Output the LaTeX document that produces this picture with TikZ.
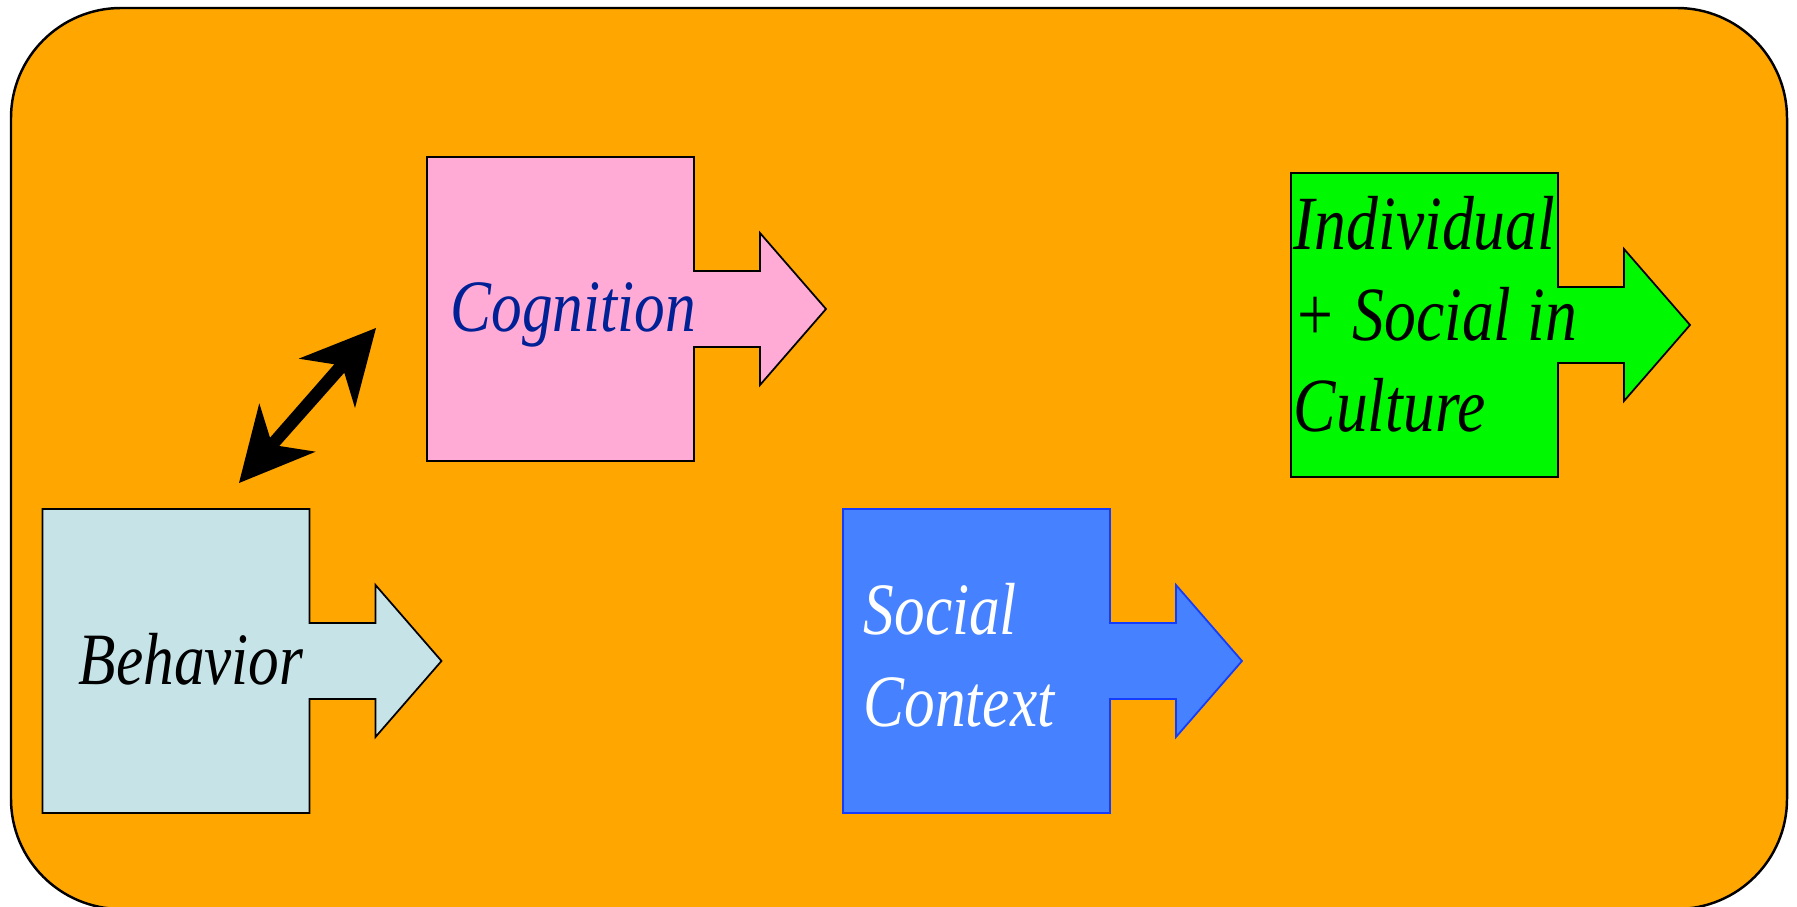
\documentclass[tikz,border=0pt]{standalone}
\usepackage{fontspec}
\setmainfont{Liberation Serif}[FakeStretch=0.83]
\definecolor{bgorange}{RGB}{255,167,0}
\definecolor{cogpink}{RGB}{255,171,213}
\definecolor{behblue}{RGB}{198,228,232}
\definecolor{socblue}{RGB}{70,130,255}
\definecolor{socedge}{RGB}{20,60,255}
\definecolor{indgreen}{RGB}{0,248,0}
\definecolor{cogtext}{RGB}{0,32,150}
\tikzset{
  frame/.style={fill=bgorange, draw=black, line width=0.7pt, rounded corners=1.1cm},
  arrowbox/.style={draw=black, line width=0.5pt},
  boxtext/.style={inner sep=0pt, anchor=base west, align=left,
    font=\fontsize{21}{26.2}\selectfont\itshape},
  bigtext/.style={boxtext, font=\fontsize{21.8}{26}\selectfont\itshape},
  dblarrow/.style={fill=black, draw=none}
}
\newcommand\arrowboxshape[2]{%
  (#1,#2) -- ++(267,0) -- ++(0,114) -- ++(66,0) -- ++(0,-38) -- ++(66,76)
  -- ++(-66,76) -- ++(0,-38) -- ++(-66,0) -- ++(0,114) -- ++(-267,0) -- cycle}
\begin{document}
\begin{tikzpicture}[x=0.01cm,y=-0.01cm]
\useasboundingbox (0,0) rectangle (1797,907);
\begin{scope}
\clip (0,0) rectangle (1797,907);
\draw[frame] (11,8) rectangle (1787,909);
\end{scope}
% boxes
\draw[arrowbox, fill=behblue] \arrowboxshape{42.5}{509};
\draw[arrowbox, fill=cogpink] \arrowboxshape{427}{157};
\draw[arrowbox, fill=socblue, draw=socedge] \arrowboxshape{843}{509};
\draw[arrowbox, fill=indgreen] \arrowboxshape{1291}{173};
% labels
\node[boxtext] (beh) at (78,685) {Behavior};
\node[boxtext, text=cogtext] (cog) at (450,332) {Cognition};
\node[boxtext, text=white] (soc) at (863,727) {Social\\Context};
\node[bigtext] (ind) at (1293,432) {Individual\\+ Social in\\Culture};
% double-headed arrow between Behavior and Cognition
\coordinate (tipA) at (376,328);
\coordinate (tipB) at (239,483);
\fill[dblarrow] (tipA) -- (355,408) -- (344.3,372.7) -- (279.3,446) -- (315.7,451.7)
  -- (tipB) -- (259.3,403.3) -- (270,437.7) -- (334.3,364.3) -- (298.7,358.7) -- cycle;
\end{tikzpicture}
\end{document}
